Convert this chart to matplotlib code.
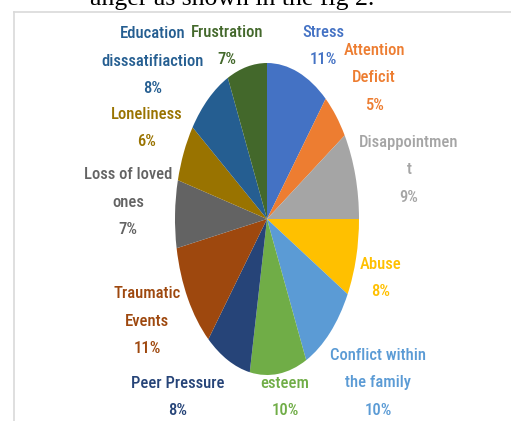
import matplotlib.pyplot as plt
from matplotlib.lines import Line2D

# causes of anger, percent share (clockwise from the top)
causes = ['Stress', 'Attention\nDeficit', 'Disappointmen\nt', 'Abuse',
          'Conflict within\nthe family', 'esteem', 'Peer Pressure',
          'Traumatic\nEvents', 'Loss of loved\nones', 'Loneliness',
          'Education\ndisssatifiaction', 'Frustration']
shares = [11, 5, 9, 8, 10, 10, 8, 11, 7, 6, 8, 7]
colors = ['#4472C4', '#ED7D31', '#A5A5A5', '#FFC000', '#5B9BD5', '#70AD47',
          '#264478', '#9E480E', '#636363', '#997300', '#255E91', '#43682B']

# label anchor (pixels from top-left, centre of the text block)
label_xy = [(323, 46), (374, 78), (409, 170), (381, 278), (378, 383),
            (285, 397), (178, 397), (147, 321), (128, 202), (147, 128),
            (153, 61), (227, 46)]

W, H = 511, 421
fig = plt.figure(figsize=(W / 100, H / 100), dpi=100)

# pie is stretched vertically, so axes box is taller than wide
cx, cy, rx, ry = 267, 219, 92, 156
ax = fig.add_axes([(cx - rx) / W, 1 - (cy + ry) / H, 2 * rx / W, 2 * ry / H])
ax.pie(shares, colors=colors, startangle=90, counterclock=False,
       wedgeprops=dict(linewidth=0))
ax.set_aspect('auto')
ax.set_xlim(-1, 1)
ax.set_ylim(-1, 1)
ax.axis('off')

narrow = ['Liberation Sans Narrow', 'DejaVu Sans Condensed',
          'Roboto Condensed', 'Roboto']
for name, val, col, (px, py) in zip(causes, shares, colors, label_xy):
    fig.text(px / W, 1 - py / H, f'{name}\n{val}%', color=col,
             family=narrow, fontweight='medium', fontsize=12,
             ha='center', va='center', linespacing=2.05)

# frame around the chart
fig.add_artist(Line2D([14 / W, 1], [1 - 12 / H, 1 - 12 / H], color='#d9d9d9',
                      lw=1.2, transform=fig.transFigure))
fig.add_artist(Line2D([14 / W, 14 / W], [1 - 12 / H, 0], color='#d9d9d9',
                      lw=1.2, transform=fig.transFigure))

# caption from the document text above the chart
fig.text(232 / W, 1 - 5 / H, 'anger as shown in the fig 2.',
         family='Liberation Serif', fontsize=18.5, ha='center',
         va='baseline', color='black')

fig.savefig('out.png', dpi=100)
